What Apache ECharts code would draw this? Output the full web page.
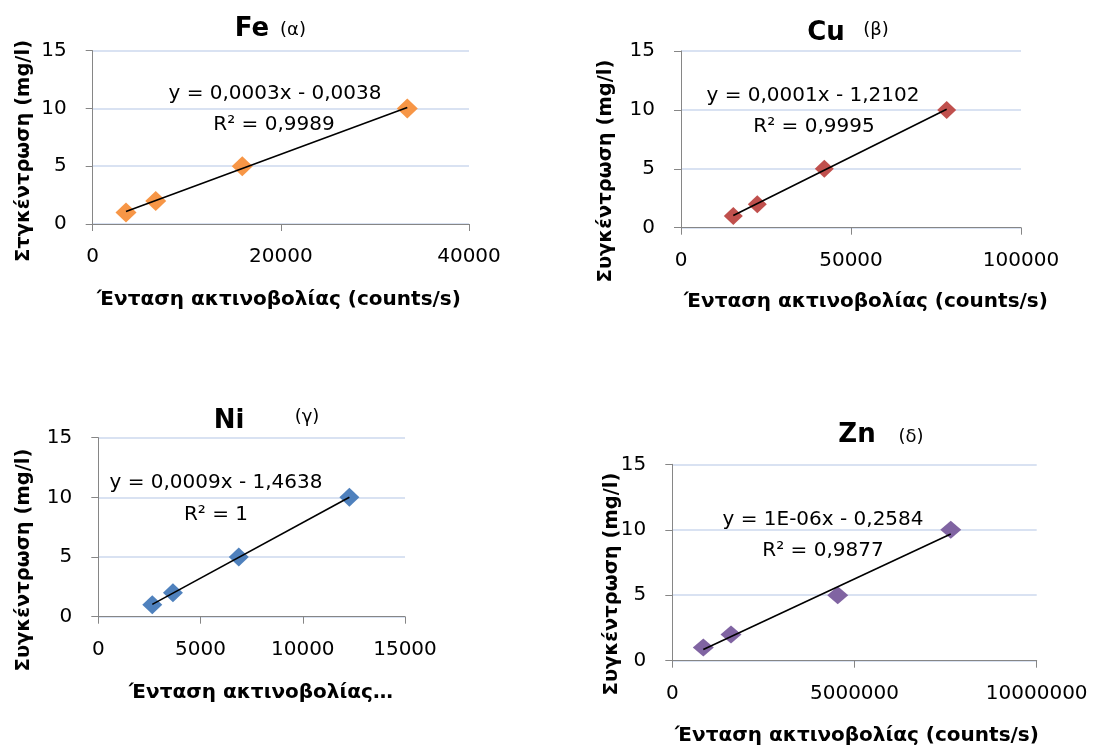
<!DOCTYPE html>
<html>
<head>
<meta charset="utf-8">
<script src="https://cdn.jsdelivr.net/npm/echarts@6/dist/echarts.min.js"></script>
<style>
html,body{margin:0;padding:0;background:#fff;}
#main{width:1094px;height:746px;}
</style>
</head>
<body>
<div id="main"></div>
<script>
// ---- data ----
var concentration = [1, 2, 5, 10];
var feX = [3540, 6700, 15900, 33440];
var cuX = [15380, 22440, 42150, 78140];
var niX = [2640, 3650, 6870, 12280];
var znX = [851000, 1611000, 4540000, 7642000];

var yTicks = [0, 5, 10, 15];
var feXTicks = [0, 20000, 40000];
var cuXTicks = [0, 50000, 100000];
var niXTicks = [0, 5000, 10000, 15000];
var znXTicks = [0, 5000000, 10000000];

var titles = ['Fe', 'Cu', 'Ni', 'Zn'];
var subTitles = ['(α)', '(β)', '(γ)', '(δ)'];
var equations = ['y = 0,0003x - 0,0038', 'y = 0,0001x - 1,2102', 'y = 0,0009x - 1,4638', 'y = 1E-06x - 0,2584'];
var r2Texts = ['R² = 0,9989', 'R² = 0,9995', 'R² = 1', 'R² = 0,9877'];
var xNames = ['Ένταση ακτινοβολίας (counts/s)', 'Ένταση ακτινοβολίας (counts/s)', 'Ένταση ακτινοβολίας…', 'Ένταση ακτινοβολίας (counts/s)'];
var yNames = ['Στγκέντρωση (mg/l)', 'Συγκέντρωση (mg/l)', 'Συγκέντρωση (mg/l)', 'Συγκέντρωση (mg/l)'];

// ---- styles / layout ----
var colors = ['#F79646', '#C0504D', '#4F81BD', '#8064A2'];
var symSizes = [[21, 20], [19, 18], [20, 19], [21, 18]];
var grids = [
  {left: 92.7, top: 50.7, width: 376.3, height: 173.3},
  {left: 681, top: 51, width: 340, height: 176.7},
  {left: 98.3, top: 437.7, width: 306.7, height: 179},
  {left: 672.3, top: 464.3, width: 364.4, height: 196.4}
];
var xTickSets = [feXTicks, cuXTicks, niXTicks, znXTicks];
var xSets = [feX, cuX, niX, znX];

// layout positions of texts
var titlePos = [[252, 29], [826, 33], [229, 421], [857, 435]];
var subPos = [[293, 30], [876, 30], [307, 417], [911, 437]];
var eqPos = [[275, 94], [813, 96], [216, 483], [823, 520]];
var r2Pos = [[274, 125], [814, 127], [216, 515], [823, 551]];
var xNamePos = [[279, 300], [866, 302], [261, 693], [857, 736]];
var yNamePos = [[24, 151], [606, 171], [24, 560], [612, 584]];

var FONT = "'DejaVu Sans', sans-serif";

function regression(xs, ys) {
  var n = xs.length, mx = 0, my = 0;
  for (var i = 0; i < n; i++) { mx += xs[i]; my += ys[i]; }
  mx /= n; my /= n;
  var sxy = 0, sxx = 0;
  for (var j = 0; j < n; j++) { sxy += (xs[j] - mx) * (ys[j] - my); sxx += (xs[j] - mx) * (xs[j] - mx); }
  var b = sxy / sxx, a = my - b * mx;
  var x0 = Math.min.apply(null, xs), x1 = Math.max.apply(null, xs);
  return [[x0, a + b * x0], [x1, a + b * x1]];
}

function plain(v) { return String(v); }

var option = {
  animation: false,
  backgroundColor: '#ffffff',
  textStyle: {fontFamily: FONT},
  grid: [], xAxis: [], yAxis: [], series: [], graphic: []
};

for (var k = 0; k < 4; k++) {
  var ticks = xTickSets[k];
  option.grid.push(Object.assign({containLabel: false}, grids[k]));
  option.xAxis.push({
    type: 'value', gridIndex: k,
    min: ticks[0], max: ticks[ticks.length - 1], interval: ticks[1] - ticks[0],
    axisLine: {show: true, onZero: false, lineStyle: {color: '#868686', width: 1}},
    axisTick: {show: true, length: 7, lineStyle: {color: '#868686'}},
    splitLine: {show: false},
    axisLabel: {color: '#000', fontSize: 20, fontFamily: FONT, margin: 23, formatter: plain}
  });
  option.yAxis.push({
    type: 'value', gridIndex: k,
    min: yTicks[0], max: yTicks[yTicks.length - 1], interval: yTicks[1] - yTicks[0],
    axisLine: {show: true, onZero: false, lineStyle: {color: '#868686', width: 1}},
    axisTick: {show: true, length: 7, lineStyle: {color: '#868686'}},
    splitLine: {show: true, lineStyle: {color: '#CCD9EE', width: 1.5}},
    axisLabel: {color: '#000', fontSize: 20, fontFamily: FONT, margin: 26, formatter: plain}
  });
  var pts = xSets[k].map(function (x, i) { return [x, concentration[i]]; });
  option.series.push({
    type: 'line', xAxisIndex: k, yAxisIndex: k,
    data: regression(xSets[k], concentration),
    showSymbol: false, symbol: 'none',
    lineStyle: {color: '#000', width: 1.6},
    z: 3
  });
  option.series.push({
    type: 'scatter', xAxisIndex: k, yAxisIndex: k,
    data: pts, symbol: 'diamond', symbolSize: symSizes[k],
    itemStyle: {color: colors[k], opacity: 1},
    z: 2
  });
  option.graphic.push(
    {type: 'text', x: titlePos[k][0], y: titlePos[k][1], style: {text: titles[k], font: 'bold 26px ' + FONT, fill: '#000', align: 'center', verticalAlign: 'middle'}},
    {type: 'text', x: subPos[k][0], y: subPos[k][1], style: {text: subTitles[k], font: '18px ' + FONT, fill: '#000', align: 'center', verticalAlign: 'middle'}},
    {type: 'text', x: eqPos[k][0], y: eqPos[k][1], z: 10, style: {text: equations[k], font: '20px ' + FONT, fill: '#000', align: 'center', verticalAlign: 'middle'}},
    {type: 'text', x: r2Pos[k][0], y: r2Pos[k][1], z: 10, style: {text: r2Texts[k], font: '20px ' + FONT, fill: '#000', align: 'center', verticalAlign: 'middle'}},
    {type: 'text', x: xNamePos[k][0], y: xNamePos[k][1], style: {text: xNames[k], font: 'bold 20px ' + FONT, fill: '#000', align: 'center', verticalAlign: 'middle'}},
    {type: 'text', x: yNamePos[k][0], y: yNamePos[k][1], rotation: Math.PI / 2, style: {text: yNames[k], font: 'bold 19.5px ' + FONT, fill: '#000', align: 'center', verticalAlign: 'middle'}}
  );
}

var chart = echarts.init(document.getElementById('main'), null, {renderer: 'canvas'});
chart.setOption(option);
</script>
</body>
</html>
